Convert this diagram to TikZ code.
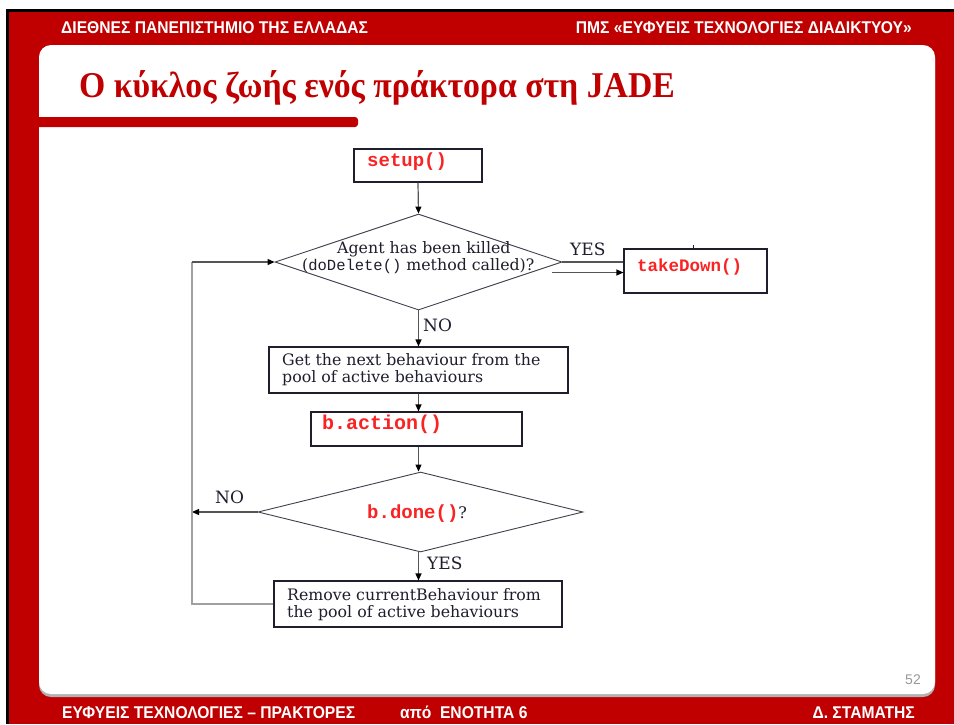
\documentclass[tikz,border=0pt]{standalone}
\usepackage{fontspec}
\setmainfont{DejaVu Serif}
\newfontfamily\titlefont[FakeStretch=0.93]{Liberation Serif}
\newfontfamily\hdrfont[FakeStretch=0.92]{Liberation Sans}
\newfontfamily\codefont{Liberation Mono}
\newfontfamily\numfont{Liberation Sans}
\usetikzlibrary{shapes.geometric,arrows.meta,calc}
\definecolor{slidered}{RGB}{192,0,0}
\definecolor{codered}{RGB}{250,35,35}
\definecolor{ink}{RGB}{30,30,45}
\definecolor{conn}{RGB}{85,85,85}
\definecolor{loopgray}{RGB}{160,160,160}
\tikzset{
  box/.style={draw=ink, line width=1.1pt, fill=white, inner sep=0pt, rectangle},
  dec/.style={diamond, draw=ink!85, line width=0.9pt, inner sep=0pt, fill=white},
  arr/.style={draw=conn, line width=1.2pt, -{Triangle[length=7pt,width=6pt,color=black]}},
  plain/.style={draw=conn, line width=1.2pt},
  loopline/.style={draw=loopgray, line width=1.8pt},
  txt/.style={inner sep=0pt, anchor=base west, text=ink, font=\fontsize{15.8}{17}\selectfont},
  lbl/.style={inner sep=0pt, anchor=base west, text=ink, font=\fontsize{17}{17}\selectfont},
  hdr/.style={inner sep=0pt, text=white, font=\hdrfont\bfseries\fontsize{17}{17}\selectfont},
}
\begin{document}
\begin{tikzpicture}[x=1pt,y=-1pt]
\useasboundingbox (0,0) rectangle (954,724);
% slide frame
\fill[white] (0,0) rectangle (954,724);
\fill[black] (6,9) rectangle (954,724);
\fill[slidered] (9,11.5) rectangle (954,724);
\fill[black!30, rounded corners=12pt] (39,47) rectangle (935,697);
\fill[white, rounded corners=12pt] (39,45) rectangle (935,694);
\fill[slidered, rounded corners=3pt] (30,117) rectangle (358,127);
% header / footer
\node[hdr, anchor=base west] (h1) at (61,33) {ΔΙΕΘΝΕΣ ΠΑΝΕΠΙΣΤΗΜΙΟ ΤΗΣ ΕΛΛΑΔΑΣ};
\node[hdr, anchor=base east] (h2) at (912,33) {ΠΜΣ «ΕΥΦΥΕΙΣ ΤΕΧΝΟΛΟΓΙΕΣ ΔΙΑΔΙΚΤΥΟΥ»};
\node[hdr, anchor=base west] (f1) at (62,718.5) {ΕΥΦΥΕΙΣ ΤΕΧΝΟΛΟΓΙΕΣ – ΠΡΑΚΤΟΡΕΣ};
\node[hdr, anchor=base west] (f2) at (400,718.5) {από\ \ ΕΝΟΤΗΤΑ 6};
\node[hdr, anchor=base east] (f3) at (915,718.5) {Δ. ΣΤΑΜΑΤΗΣ};
\node[inner sep=0pt, anchor=base east, text=black!40, font=\numfont\fontsize{14}{14}\selectfont] (pg) at (921,684) {52};
% title
\node[inner sep=0pt, anchor=base west, text=slidered, font=\titlefont\bfseries\fontsize{36.3}{36}\selectfont] (title) at (79,97) {Ο κύκλος ζωής ενός πράκτορα στη JADE};

% flowchart shapes
\node[box, minimum width=128pt, minimum height=33pt] (setup) at (418,165.5) {};
\node[dec, minimum width=287pt, minimum height=96pt] (d1) at (418.5,262) {};
\node[box, minimum width=143pt, minimum height=44pt] (takedown) at (695.5,271) {};
\node[box, minimum width=299pt, minimum height=46pt] (getnext) at (418.5,370) {};
\node[box, minimum width=211pt, minimum height=34pt] (action) at (416.5,429) {};
\node[dec, minimum width=325pt, minimum height=80pt] (d2) at (420.5,512) {};
\node[box, minimum width=288pt, minimum height=46pt] (remove) at (418,604) {};

% texts
\node[inner sep=0pt, anchor=base west, text=codered, font=\codefont\bfseries\fontsize{19}{19}\selectfont] (tsetup) at (367,166) {setup()};
\node[txt] (tagent) at (337,253) {Agent has been killed};
\node[txt] (tdel) at (302,270) {(\textcolor{ink}{\codefont\fontsize{15.5}{15}\selectfont doDelete()} method called)?};
\node[inner sep=0pt, anchor=base west, text=codered, font=\codefont\bfseries\fontsize{17.5}{17.5}\selectfont] (ttake) at (637,271) {takeDown()};
\node[txt] (tget1) at (282,365) {Get the next behaviour from the};
\node[txt] (tget2) at (282,382) {pool of active behaviours};
\node[inner sep=0pt, anchor=base west, text=codered, font=\codefont\bfseries\fontsize{20}{20}\selectfont] (tact) at (322,429) {b.action()};
\node[inner sep=0pt, anchor=base west, font=\fontsize{19}{19}\selectfont] (tdone) at (367,518) {\textcolor{codered}{\codefont\bfseries b.done()}\textcolor{ink}{\fontsize{16}{16}\selectfont ?}};
\node[txt] (trem1) at (287,600) {Remove currentBehaviour from};
\node[txt] (trem2) at (287,617) {the pool of active behaviours};

% labels
\node[lbl] (yes1) at (570,255) {YES};
\node[lbl] (no1) at (423,331) {NO};
\node[lbl] (no2) at (215,503) {NO};
\node[lbl] (yes2) at (427,569) {YES};

% connectors
\coordinate (yesstart) at (552,272.5);
\coordinate (loopNO) at (192,512);
\coordinate (loopbot) at (192,604);
\coordinate (looptop) at (192,262);
\draw[arr] (setup.south) -- (d1.north);
\draw[plain] (d1.east) -- (d1.east -| takedown.west);
\draw[arr] (yesstart) -- (yesstart -| takedown.west);
\draw[draw=ink, line width=1pt] ($(takedown.north)+(-2.5,0)$) -- ++(0,-3);
\draw[arr] (d1.south) -- (d1.south |- getnext.north);
\draw[arr] (getnext.south) -- (getnext.south |- action.north);
\draw[arr] (getnext.south |- action.south) -- (getnext.south |- d2.north);
\draw[arr] (d2.west) -- (loopNO);
\draw[arr] (getnext.south |- d2.south) -- (getnext.south |- remove.north);
\draw[loopline] (remove.west) -- (loopbot) -- (looptop);
\draw[arr] (looptop) -- (d1.west);
\end{tikzpicture}
\end{document}
